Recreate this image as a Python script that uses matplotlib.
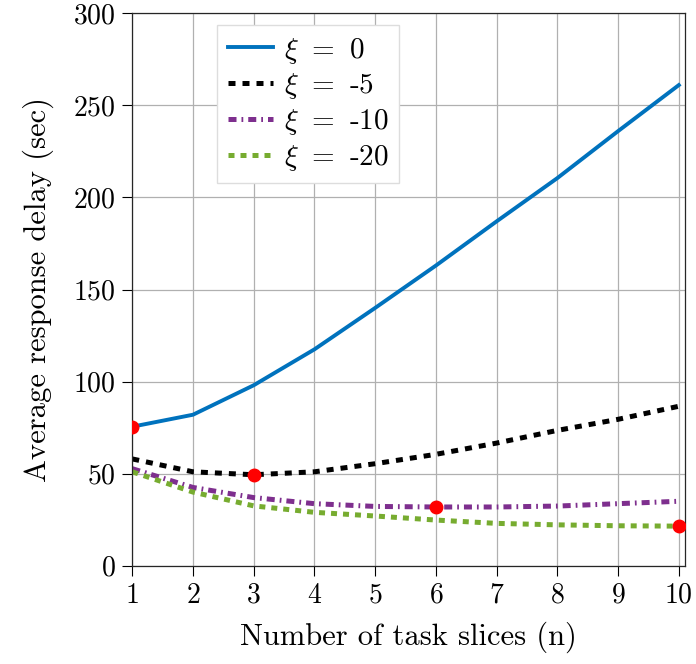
import numpy as np
import matplotlib
matplotlib.use("Agg")
from matplotlib import pyplot as plt

plt.rcParams['font.family'] = 'serif'
plt.rcParams['font.serif'] = ['cmr10']
plt.rcParams['mathtext.fontset'] = 'cm'
plt.rcParams['axes.unicode_minus'] = False
plt.rcParams['axes.formatter.use_mathtext'] = True

# data
slices = [1, 2, 3, 4, 5, 6, 7, 8, 9, 10]
delay_xi0 = [75.5, 82, 98, 117.5, 140, 163, 187, 210.5, 236, 261]
delay_xi5 = [58, 51, 49.4, 51, 55.4, 60.5, 66.6, 73.5, 79.5, 86.6]
delay_xi10 = [52.7, 42.5, 37, 33.7, 32.2, 31.9, 31.9, 32.4, 33.7, 35]
delay_xi20 = [51, 40, 32.5, 29, 27, 24.8, 23, 22.2, 21.7, 21.5]
labels = [r'$\xi$ $=$ 0', r'$\xi$ $=$ -5', r'$\xi$ $=$ -10', r'$\xi$ $=$ -20']
min_x = [1, 3, 6, 10]
min_y = [75.5, 49.4, 31.9, 21.5]

fig = plt.figure(figsize=(6.96, 6.64), dpi=100)
ax = fig.add_axes([0.19, 0.148, 0.794, 0.832])

ax.plot(slices, delay_xi0, color='#0072BD', lw=2.8, label=labels[0])
ax.plot(slices, delay_xi5, color='black', lw=3.6, dashes=(1.4, 1.4), label=labels[1])
ax.plot(slices, delay_xi10, color='#7E2F8E', lw=3.6, dashes=(1.6, 1.0, 0.35, 1.0), label=labels[2])
ax.plot(slices, delay_xi20, color='#77AC30', lw=3.6, dashes=(1.2, 1.2), label=labels[3])
ax.plot(min_x, min_y, 'o', color='red', ms=9, zorder=5)

ax.set_xlim(1, 10.1)
ax.set_ylim(0, 300)
ax.set_xticks(range(1, 11))
ax.set_yticks(range(0, 301, 50))
ax.grid(True, color='#b0b0b0', lw=0.9)
ax.tick_params(labelsize=20, direction='out', length=7, pad=5, top=False, right=False)
for s in ax.spines.values():
    s.set_linewidth(0.9)
    s.set_color('#262626')

ax.set_xlabel('Number of task slices (n)', fontsize=22, labelpad=9)
ax.set_ylabel('Average response delay (sec)', fontsize=22, labelpad=14)

leg = ax.legend(loc='upper left', bbox_to_anchor=(0.154, 0.978), borderaxespad=0,
                fontsize=21, fancybox=False, framealpha=1, edgecolor='#dddddd',
                handlelength=1.55, handletextpad=0.4, labelspacing=0.2, borderpad=0.35)

fig.savefig('out.png', dpi=100)
